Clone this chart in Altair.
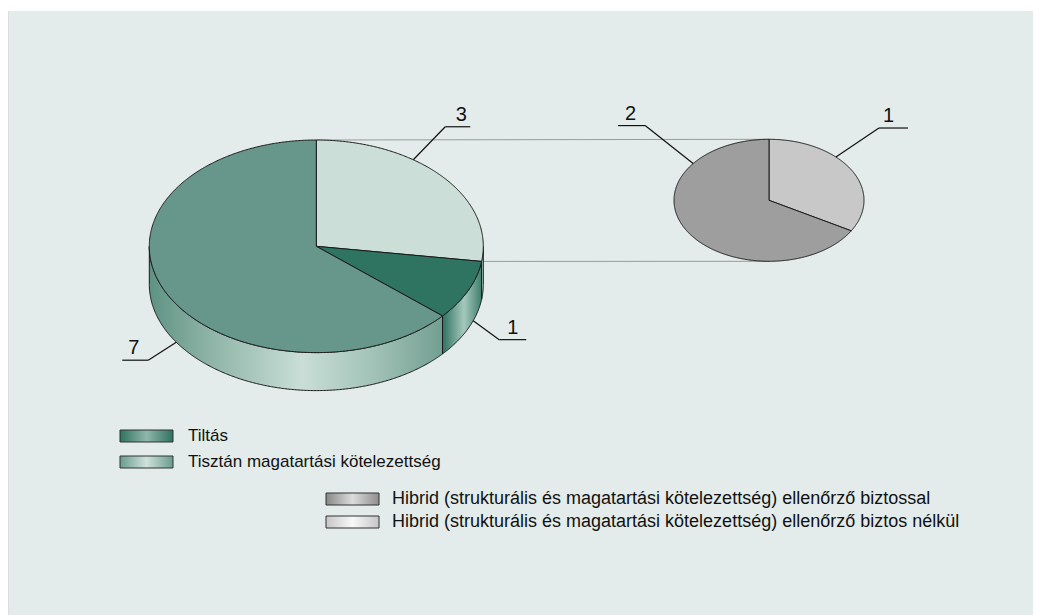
import math
import numpy as np
import pandas as pd
import altair as alt

# ------------------------------------------------------------------ data
main_keys = ["hibrid", "tiltas", "tisztan"]
main_labels = ["Hibrid (strukturális és magatartási kötelezettség)",
               "Tiltás",
               "Tisztán magatartási kötelezettség"]
main_values = [3, 1, 7]

sec_keys = ["nelkul", "biztossal"]
sec_labels = ["Hibrid (strukturális és magatartási kötelezettség) ellenőrző biztos nélkül",
              "Hibrid (strukturális és magatartási kötelezettség) ellenőrző biztossal"]
sec_values = [1, 2]

legend_green = ["Tiltás", "Tisztán magatartási kötelezettség"]
legend_grey = ["Hibrid (strukturális és magatartási kötelezettség) ellenőrző biztossal",
               "Hibrid (strukturális és magatartási kötelezettség) ellenőrző biztos nélkül"]

# ------------------------------------------------------------------ style / layout
FONT = "Liberation Sans"
BG = "#e3ecea"
EDGE = "#1a1a1a"
top_colors = {"hibrid": "#cbded8", "tiltas": "#2f7461", "tisztan": "#67978a",
              "nelkul": "#c8c8c8", "biztossal": "#9e9e9e"}

side_gradients = {
    "tisztan": [("#5e9282", 0.0), ("#8db3a6", 0.2), ("#c9ded7", 0.52), ("#a3c3b8", 0.76), ("#729f91", 1.0)],
    "tiltas": [("#2e7260", 0.0), ("#a6c8bd", 0.55), ("#3d7f6c", 1.0)],
    "hibrid": [("#cbded8", 0.0), ("#cbded8", 1.0)],
}
swatch_gradients = {
    "Tiltás": [("#2e7260", 0.0), ("#8fb7aa", 0.5), ("#2e7260", 1.0)],
    "Tisztán magatartási kötelezettség": [("#6a9c8e", 0.0), ("#cfe1db", 0.5), ("#6a9c8e", 1.0)],
    legend_grey[0]: [("#888888", 0.0), ("#dcdcdc", 0.5), ("#8e8e8e", 1.0)],
    legend_grey[1]: [("#c6c6c6", 0.0), ("#f8f8f8", 0.5), ("#c6c6c6", 1.0)],
}

W, H = 1025, 607          # chart size (page offset 8px)
X0, Y0 = 8, 8
MAIN = dict(cx=316.3, cy=246.3, rx=167.0, ry=106.3, depth=38.0)
SEC = dict(cx=769.0, cy=200.3, rx=95.0, ry=61.0, depth=0.0)


def ell(g, deg, drop=0.0):
    t = math.radians(deg)
    return g["cx"] + g["rx"] * math.sin(t), g["cy"] - g["ry"] * math.cos(t) + drop


def arc(g, a0, a1, drop=0.0):
    n = max(2, int(abs(a1 - a0) * 2) + 1)
    return [ell(g, a, drop) for a in np.linspace(a0, a1, n)]


def bounds(values):
    tot = float(sum(values))
    out, acc = [], 0.0
    for v in values:
        out.append((acc / tot * 360.0, (acc + v) / tot * 360.0))
        acc += v
    return out


main_b = bounds(main_values)
sec_b = bounds(sec_values)

# top faces
top_rows = []
for keys, vals_b, g in ((main_keys, main_b, MAIN), (sec_keys, sec_b, SEC)):
    for k, (a0, a1) in zip(keys, vals_b):
        pts = [(g["cx"], g["cy"])] + arc(g, a0, a1)
        for i, (x, y) in enumerate(pts):
            top_rows.append({"key": k, "i": i, "x": x, "y": y})
top_df = pd.DataFrame(top_rows)

# side walls of main pie (front half only)
side_rows = []
for k, (a0, a1) in zip(main_keys, main_b):
    s0, s1 = max(a0, 90.0), min(a1, 270.0)
    if s1 - s0 < 1.0:
        continue
    pts = arc(MAIN, s0, s1) + arc(MAIN, s1, s0, MAIN["depth"])
    for i, (x, y) in enumerate(pts):
        side_rows.append({"key": k, "i": i, "x": x, "y": y})
side_df = pd.DataFrame(side_rows)

# connector lines (pie of pie)
c1 = ell(MAIN, main_b[0][0]); c2 = ell(SEC, 0.0)
c3 = ell(MAIN, main_b[0][1]); c4 = ell(SEC, 180.0)
conn_df = pd.DataFrame([
    {"x": c1[0], "y": c1[1], "x2": c2[0], "y2": c2[1]},
    {"x": c3[0], "y": c3[1], "x2": c4[0], "y2": c4[1]},
])

# data labels with leader lines: text, pie, angle, drop, elbow dx, dy, shelf, text shift
label_specs = [
    (str(main_values[0]), MAIN, 35.5, 0.0, 32, -33, 25, 3.5),
    (str(main_values[1]), MAIN, 110.0, 1.0, 26, 19, 27, 0.0),
    (str(main_values[2]), MAIN, 237.0, 1.0, -28, 18, -26, -1.5),
    (str(sec_values[1]), SEC, 307.0, 0.0, -48, -38, -27, -1.0),
    (str(sec_values[0]), SEC, 44.8, 0.0, 43, -29, 29, -5.0),
]
seg_rows, lab_rows = [], []
for txt, g, ang, dropf, dx, dy, shelf, tsh in label_specs:
    ax, ay = ell(g, ang, g["depth"] * dropf)
    ex, ey = ax + dx, ay + dy
    seg_rows.append({"x": ax, "y": ay, "x2": ex, "y2": ey})
    seg_rows.append({"x": ex, "y": ey, "x2": ex + shelf, "y2": ey})
    lab_rows.append({"text": txt, "x": ex + shelf / 2.0 + tsh, "y": ey - 6})
seg_df = pd.DataFrame(seg_rows)
lab_df = pd.DataFrame(lab_rows)

# legend blocks
legend_rows = []
for labels, sx, tx, y0, step, fs in ((legend_green, 120, 188, 436, 26, 17),
                                      (legend_grey, 326, 392, 499, 23, 18)):
    for j, lab in enumerate(labels):
        yc = y0 + j * step
        legend_rows.append({"label": lab, "x": sx, "x2": sx + 53, "y": yc - 6, "y2": yc + 6,
                            "tx": tx, "ty": yc, "fs": fs})
legend_df = pd.DataFrame(legend_rows)

# ------------------------------------------------------------------ chart
xs = alt.Scale(domain=[X0, X0 + W], nice=False, zero=False)
ys = alt.Scale(domain=[Y0, Y0 + H], nice=False, zero=False, reverse=True)


def X(f="x"):
    return alt.X(f"{f}:Q", scale=xs, axis=None)


def Y(f="y"):
    return alt.Y(f"{f}:Q", scale=ys, axis=None)


def grad(stops):
    return alt.LinearGradient(gradient="linear", x1=0, x2=1, y1=0, y2=0,
                              stops=[alt.GradientStop(color=c, offset=o) for c, o in stops])


strip = alt.Chart(pd.DataFrame([{"x": X0, "x2": X0 + W, "y": Y0, "y2": 11}])).mark_rect(
    color="white").encode(x=X(), x2="x2:Q", y=Y(), y2="y2:Q")

conn = alt.Chart(conn_df).mark_rule(color="#9a9a9a", strokeWidth=1).encode(
    x=X(), y=Y(), x2="x2:Q", y2="y2:Q")

side_layers = []
for k in side_df["key"].unique():
    side_layers.append(
        alt.Chart(side_df[side_df["key"] == k]).mark_line(
            interpolate="linear-closed", fill=grad(side_gradients[k]),
            stroke=EDGE, strokeWidth=1, strokeJoin="round").encode(
            x=X(), y=Y(), order="i:Q"))

tops = alt.Chart(top_df).mark_line(
    interpolate="linear-closed", stroke=EDGE, strokeWidth=1, strokeJoin="round").encode(
    x=X(), y=Y(), order="i:Q", detail="key:N",
    fill=alt.Fill("key:N", scale=alt.Scale(domain=list(top_colors.keys()),
                                           range=list(top_colors.values())), legend=None))

leaders = alt.Chart(seg_df).mark_rule(color="#111111", strokeWidth=1.2).encode(
    x=X(), y=Y(), x2="x2:Q", y2="y2:Q")

labels = alt.Chart(lab_df).mark_text(
    font=FONT, fontSize=20, align="center", baseline="alphabetic", color="#111111").encode(
    x=X(), y=Y(), text="text:N")

sw_layers = []
for lab in legend_df["label"]:
    sw_layers.append(
        alt.Chart(legend_df[legend_df["label"] == lab]).mark_rect(
            fill=grad(swatch_gradients[lab]), stroke="#333333", strokeWidth=1).encode(
            x=X(), x2="x2:Q", y=Y(), y2="y2:Q"))

leg_text = [
    alt.Chart(legend_df[legend_df["fs"] == fs]).mark_text(
        font=FONT, fontSize=fs, align="left", baseline="middle", color="#111111").encode(
        x=X("tx"), y=Y("ty"), text="label:N")
    for fs in sorted(legend_df["fs"].unique())
]

chart = alt.layer(strip, conn, *side_layers, tops, leaders, labels, *sw_layers, *leg_text).properties(
    width=W, height=H, padding=0, autosize=alt.AutoSizeParams(type="none"),
).configure_view(stroke=None).configure(background=BG)

chart.save("out.html", embed_options={"renderer": "svg", "actions": False})
